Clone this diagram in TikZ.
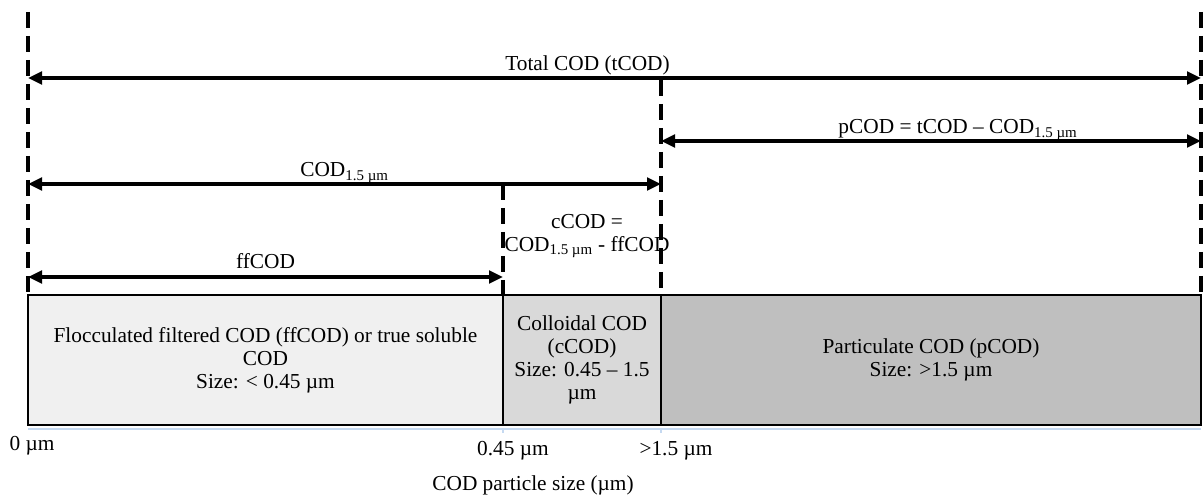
\documentclass[tikz,border=0pt]{standalone}
\usepackage{fontspec}
\setmainfont{Liberation Serif}
\usepackage{tikz}
\usetikzlibrary{arrows.meta, positioning}

\definecolor{ffFill}{RGB}{240,240,240}
\definecolor{cFill}{RGB}{217,217,217}
\definecolor{pFill}{RGB}{191,191,191}
\definecolor{axisBlue}{RGB}{197,217,241}
\newcommand{\codfont}{\fontsize{16}{17.25}\selectfont}

\begin{document}
\begin{tikzpicture}[x=0.75pt, y=0.75pt, >={Triangle[length=10.5pt, width=9.5pt]}, font=\codfont,
    frac/.style={draw=black, line width=1.1pt, minimum height=97.5pt, inner sep=0pt, outer sep=0pt, align=center},
    bound/.style={line width=2.8pt, dash pattern=on 12pt off 6pt},
    span/.style={<->, line width=2.3pt},
    lbl/.style={anchor=base, inner sep=0pt}]
  \useasboundingbox (0,0) rectangle (1203,496);

  % === FRACTIONS ===
  \node[frac, fill=ffFill, minimum width=356.25pt, anchor=south west] (ff) at (28,71)
    {Flocculated filtered COD (ffCOD) or true soluble\\COD\\Size: < 0.45 µm};
  \node[frac, fill=cFill, minimum width=118.5pt, right=0pt of ff] (cc)
    {Colloidal COD\\(cCOD)\\Size: 0.45 – 1.5\\µm};
  \node[frac, fill=pFill, minimum width=405pt, right=0pt of cc] (pp)
    {Particulate COD (pCOD)\\Size: >1.5 µm};

  % Axis
  \draw[axisBlue, line width=1.2pt] ([yshift=-3pt]ff.south west) -- ([yshift=-3pt]pp.south east);
  \draw[axisBlue, line width=0.8pt] ([yshift=-3pt]ff.south east) -- ++(0,-4);
  \draw[axisBlue, line width=0.8pt] ([yshift=-3pt]cc.south east) -- ++(0,-4);

  % === BOUNDARIES ===
  \coordinate (ltop) at (28,484);
  \coordinate (ctop) at (503,312);
  \coordinate (ptop) at (661,416);
  \coordinate (rtop) at (1201,484);
  \draw[bound] (ltop) -- (ff.north west);
  \draw[bound] (ctop) -- (ff.north east);
  \draw[bound] (ptop) -- (cc.north east);
  \draw[bound] (rtop) -- (pp.north east);

  % === SPANS ===
  \coordinate (tL) at (28,418);
  \coordinate (tR) at (1201,418);
  \coordinate (pL) at (661,355);
  \coordinate (pR) at (1201,355);
  \coordinate (sL) at (28,312);
  \coordinate (fL) at (28,219);
  \coordinate (fR) at (503,219);

  \draw[span] (tL) -- (tR) node[lbl, pos=0.477, yshift=5.5pt] {Total COD (tCOD)};
  \draw[span] (pL) -- (pR) node[lbl, pos=0.55, yshift=5.5pt] {pCOD = tCOD – COD\textsubscript{1.5 µm}};
  \draw[span] (sL) -- (ptop |- sL) node[lbl, midway, yshift=5.5pt] {COD\textsubscript{1.5 µm}};
  \draw[span] (fL) -- (fR) node[lbl, midway, yshift=6.5pt] {ffCOD};

  \node[align=center, inner sep=0pt] (cclab) at (587,260) {cCOD =\\COD\textsubscript{1.5 µm} - ffCOD};

  % Size axis labels
  \node[lbl] (x0) at (32,45) {0 µm};
  \node[lbl] (x1) at (513,40) {0.45 µm};
  \node[lbl] (x2) at (676,40) {>1.5 µm};
  \node[lbl] (xt) at (533,5) {COD particle size (µm)};
\end{tikzpicture}
\end{document}
